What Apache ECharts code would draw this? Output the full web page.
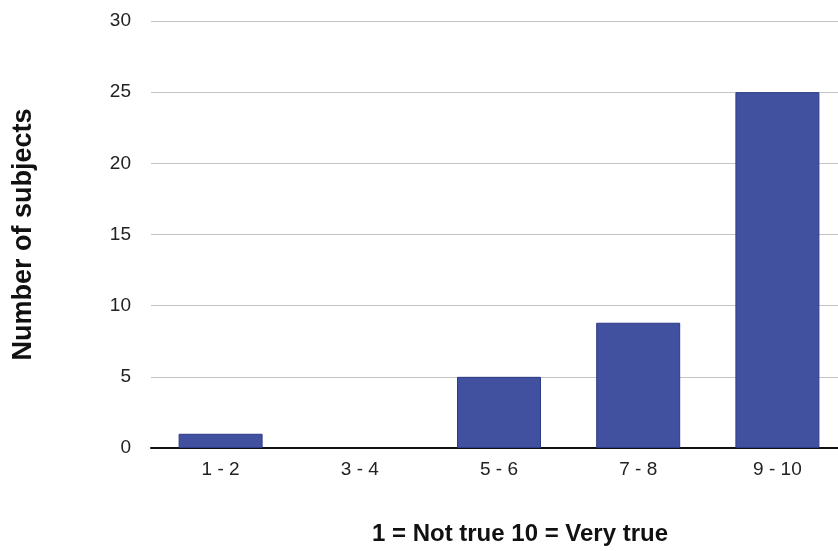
<!DOCTYPE html>
<html>
<head>
<meta charset="utf-8">
<script src="https://cdn.jsdelivr.net/npm/echarts@6/dist/echarts.min.js"></script>
<style>
  html, body { margin: 0; padding: 0; background: #fff; overflow: hidden; }
  /* plot runs past the right edge of the picture, so the div is a bit wider than the window */
  #chart { width: 847px; height: 551px; }
</style>
</head>
<body>
<div id="chart"></div>
<script>
// score ranges on the x axis
var categories = ['1 - 2', '3 - 4', '5 - 6', '7 - 8', '9 - 10'];
// number of subjects per range
var subjects = [1, 0, 5, 8.8, 25];

var myChart = echarts.init(document.getElementById('chart'));

var barData = subjects.map(function (v) {
    // a zero bar should leave no mark at all
    return v === 0 ? { value: v, itemStyle: { borderWidth: 0 } } : v;
});

var option = {
    backgroundColor: '#fff',
    textStyle: { fontFamily: 'Liberation Sans, Arial, sans-serif' },
    grid: { left: 151, right: 0, top: 21, bottom: 102 },
    xAxis: {
        type: 'category',
        data: categories,
        name: '1 = Not true 10 = Very true',
        nameLocation: 'middle',
        nameGap: 74,
        // name sits a little right of the plot centre in the original
        nameTextStyle: { fontSize: 24, fontWeight: 'bold', color: '#111', padding: [0, 0, 0, 42] },
        axisLine: { lineStyle: { color: '#111', width: 2 } },
        axisTick: { show: false },
        axisLabel: { fontSize: 19, color: '#222', margin: 12 }
    },
    yAxis: {
        type: 'value',
        min: 0,
        max: 30,
        interval: 5,
        name: 'Number of subjects',
        nameLocation: 'middle',
        nameGap: 114,
        nameTextStyle: { fontSize: 27, fontWeight: 'bold', color: '#111' },
        axisLine: { show: false },
        axisTick: { show: false },
        axisLabel: { fontSize: 19, color: '#222', margin: 20 },
        splitLine: { lineStyle: { color: '#c4c4c4', width: 1 } }
    },
    series: [
        {
            type: 'bar',
            data: barData,
            barWidth: 84,
            itemStyle: { color: '#42519f', borderColor: '#2d3a86', borderWidth: 1 }
        }
    ]
};

myChart.setOption(option);
</script>
</body>
</html>
